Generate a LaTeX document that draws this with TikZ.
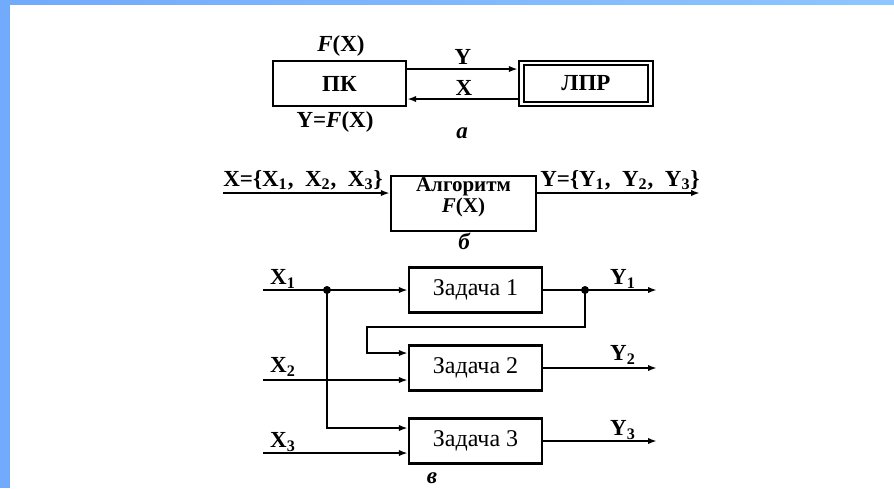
\documentclass[tikz,border=0pt]{standalone}
\usepackage{fontspec}
\setmainfont{Liberation Serif}
\usepackage{xcolor}
\usepackage{tikz}
\usetikzlibrary{arrows.meta, positioning, calc}
\definecolor{bandL}{RGB}{114,170,252}
\definecolor{bandR}{RGB}{142,198,255}

\begin{document}
\begin{tikzpicture}[
    x=0.5pt, y=-0.5pt,
    every node/.style={font=\fontsize{11.5}{12}\selectfont\bfseries},
    box/.style={rectangle, draw, line width=1.2pt, minimum width=#1, minimum height=22.5pt, inner sep=1pt, align=center},
    task/.style={box=66.5pt, font=\fontsize{12}{13}\selectfont},
    caption/.style={font=\fontsize{11.5}{12}\selectfont\bfseries\itshape},
    arrow/.style={-{Latex[length=4.5pt, width=3.2pt]}, line width=1.2pt},
    dot/.style={circle, fill, inner sep=0pt, minimum size=4pt}
]
% frame
\useasboundingbox (0,0) rectangle (894,488);
\fill[white] (0,0) rectangle (894,488);
\fill[bandL] (0,0) rectangle (10,488);
\shade[left color=bandL, right color=bandR] (0,0) rectangle (894,4);

% a
\node[box=66.5pt] (pk) at (339.5,83.5) {ПК};
\node[box=67pt] (lpr) at (586,83.5) {ЛПР};
\draw[line width=1.2pt] ([shift={(3pt,-2.5pt)}]lpr.north west) rectangle ([shift={(-3pt,2.5pt)}]lpr.south east);
\draw[arrow] ([yshift=7.25pt]pk.east) -- ([yshift=7.25pt]lpr.west);
\draw[arrow] ([yshift=-7.75pt]lpr.west) -- ([yshift=-7.75pt]pk.east);
\node (fx) at (341,46) {\textit{F}(X)};
\node (yfx) at (335,122) {Y=\textit{F}(X)};
\node (ylab) at (463,57) {Y};
\node (xlab) at (464,88) {X};
\node[caption] (capa) at (462,133) {а};

% b
\node[box=72.5pt, minimum height=26.5pt, inner ysep=1pt, text depth=8pt,
      font=\fontsize{10.5}{7.2}\selectfont\bfseries] (alg) at (463.5,203.5) {Алгоритм\\\textit{F}(X)};
\coordinate (xin) at (223,193);
\coordinate (yout) at (700,193);
\draw[arrow] (xin) -- (xin -| alg.west);
\draw[arrow] (xin -| alg.east) -- (yout);
\node (xset) at (303,180) {X=\{X\textsubscript{1},\ \ X\textsubscript{2},\ \ X\textsubscript{3}\}};
\node (yset) at (620,180) {Y=\{Y\textsubscript{1},\ \ Y\textsubscript{2},\ \ Y\textsubscript{3}\}};
\node[caption] (capb) at (464,241) {б};

% c
\node[task] (z1) at (475.5,290) {Задача 1};
\node[task] (z2) at (475.5,368) {Задача 2};
\node[task] (z3) at (475.5,441) {Задача 3};
\coordinate (x1) at (263,290);
\coordinate (x2) at (263,380);
\coordinate (x3) at (263,453);
\coordinate (bend) at (367,327);
\coordinate (yend) at (657,290);
\node[dot] (j1) at (327,290) {};
\node[dot] (j2) at (585,290) {};
\draw[arrow] (x1) -- (z1.west);
\draw[arrow] (x2) -- (x2 -| z2.west);
\draw[arrow] (x3) -- (x3 -| z3.west);
\draw[arrow] (j1.center) |- ([yshift=6.5pt]z3.west);
\draw[arrow] (z1.east) -- (yend);
\draw[arrow] (j2.center) |- (bend) |- ([yshift=7.5pt]z2.west);
\draw[arrow] (z2.east) -- (z2.east -| yend);
\draw[arrow] (z3.east) -- (z3.east -| yend);
\node (x1lab) at (283,279) {X\textsubscript{1}};
\node (x2lab) at (283,367) {X\textsubscript{2}};
\node (x3lab) at (283,442) {X\textsubscript{3}};
\node (y1lab) at (623,279) {Y\textsubscript{1}};
\node (y2lab) at (623,355) {Y\textsubscript{2}};
\node (y3lab) at (623,430) {Y\textsubscript{3}};
\node[caption] (capc) at (432,478) {в};
\end{tikzpicture}
\end{document}
